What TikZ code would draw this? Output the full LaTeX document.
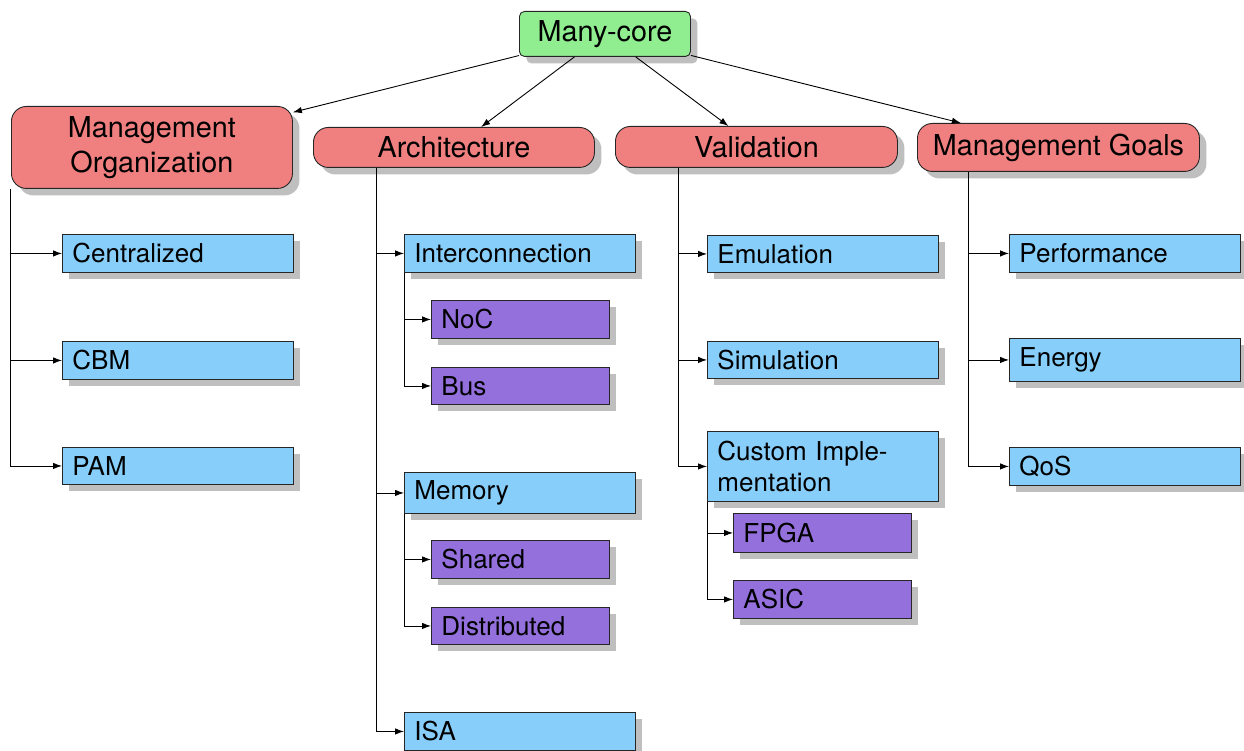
\documentclass[tikz,border=0pt]{standalone}
\usepackage{fontspec}
\setmainfont{TeX Gyre Heros}
\usetikzlibrary{shadows,arrows.meta,calc}

\definecolor{rootgreen}{HTML}{90EE90}
\definecolor{catred}{HTML}{F08080}
\definecolor{leafblue}{HTML}{87CEFA}
\definecolor{subpurple}{HTML}{9370DB}
\definecolor{edgegray}{HTML}{262626}

\tikzset{
  boxbase/.style={draw=edgegray, line width=0.9pt, anchor=north west, inner ysep=2pt,
    drop shadow={shadow xshift=7pt, shadow yshift=-7pt, fill=black!25, opacity=1}},
  rootbox/.style={boxbase, fill=rootgreen, rounded corners=5pt, align=center,
    font=\fontsize{28.8}{34.6}\selectfont},
  catbox/.style={boxbase, fill=catred, rounded corners=15pt, align=center,
    font=\fontsize{28.8}{34.6}\selectfont},
  leafbox/.style={boxbase, fill=leafblue, inner xsep=10pt, text width=211pt,
    align=left, font=\fontsize{26}{31.2}\selectfont},
  subbox/.style={boxbase, fill=subpurple, inner xsep=10pt, text width=158pt,
    align=left, font=\fontsize{26}{31.2}\selectfont},
  arr/.style={line width=0.9pt, draw=black, -{Latex[length=9pt,width=6.5pt]}},
}

\begin{document}
\begin{tikzpicture}[x=1pt, y=-1pt]
\useasboundingbox (0,0) rectangle (1244,751);

% root and the four categories
\node[rootbox, minimum width=171pt, minimum height=45pt] (root) at (519,11) {Many-core};
\node[catbox, minimum width=281pt, minimum height=82pt] (mo) at (11,106) {Management\\Organization};
\node[catbox, minimum width=281pt, minimum height=40pt] (arch) at (313,127) {Architecture};
\node[catbox, minimum width=282pt, minimum height=41pt] (val) at (615,126) {Validation};
\node[catbox, minimum width=282pt, minimum height=48pt] (mg) at (917,123) {Management Goals};

% management organization
\node[leafbox, minimum height=38pt] (cen) at (62,234) {Centralized};
\node[leafbox, minimum height=38pt] (cbm) at (62,341) {CBM};
\node[leafbox, minimum height=37pt] (pam) at (62,447) {PAM};

% architecture
\node[leafbox, minimum height=38pt] (ic) at (404,234) {Interconnection};
\node[subbox, minimum height=38pt] (noc) at (431,300) {NoC};
\node[subbox, minimum height=37pt] (bus) at (431,367) {Bus};
\node[leafbox, minimum height=41pt] (mem) at (404,472) {Memory};
\node[subbox, minimum height=38pt] (sha) at (431,540) {Shared};
\node[subbox, minimum height=37pt] (dis) at (431,607) {Distributed};
\node[leafbox, minimum height=38pt] (isa) at (404,712) {ISA};

% validation
\node[leafbox, minimum height=37pt] (emu) at (707,235) {Emulation};
\node[leafbox, minimum height=37pt] (sim) at (707,341) {Simulation};
\node[leafbox, minimum height=70pt] (cus) at (707,431) {Custom Imple-\\mentation};
\node[subbox, minimum height=39pt] (fpga) at (733,513) {FPGA};
\node[subbox, minimum height=38pt] (asic) at (733,580) {ASIC};

% management goals
\node[leafbox, minimum height=38pt] (perf) at (1009,234) {Performance};
\node[leafbox, minimum height=43pt] (ene) at (1009,338) {Energy};
\node[leafbox, minimum height=38pt] (qos) at (1009,447) {QoS};

% root to categories
\draw[arr] (root) -- (mo);
\draw[arr] (root) -- (arch);
\draw[arr] (root) -- (val);
\draw[arr] (root) -- (mg);

% trunk tops below each category
\coordinate (t1) at ($(mo.south west)+(-1,0)$);
\coordinate (t2) at ($(arch.south west)+(63,0)$);
\coordinate (t3) at ($(val.south west)+(63,0)$);
\coordinate (t4) at ($(mg.south west)+(51,0)$);

\foreach \c in {cen,cbm,pam} \draw[arr] (t1) |- (\c.west);
\foreach \c in {ic,mem,isa} \draw[arr] (t2) |- (\c.west);
\foreach \c in {emu,sim,cus} \draw[arr] (t3) |- (\c.west);
\foreach \c in {perf,ene,qos} \draw[arr] (t4) |- (\c.west);

% second-level branches
\foreach \c in {noc,bus} \draw[arr] (ic.south west) |- (\c.west);
\foreach \c in {sha,dis} \draw[arr] (mem.south west) |- (\c.west);
\foreach \c in {fpga,asic} \draw[arr] (cus.south west) |- (\c.west);
\end{tikzpicture}
\end{document}
